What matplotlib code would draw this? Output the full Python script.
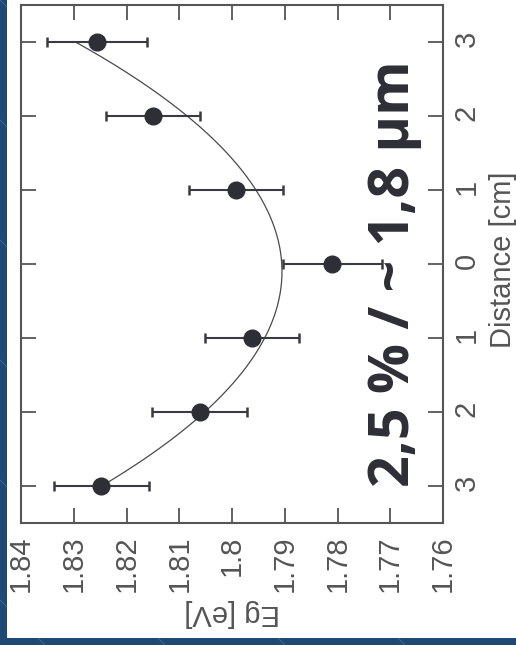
#!/usr/bin/env python3

from __future__ import annotations

import matplotlib

matplotlib.use("Agg")
import matplotlib.pyplot as plt
import numpy as np
from matplotlib.lines import Line2D
from matplotlib.patches import Rectangle

# the chart is shown turned a quarter turn: Eg runs left-right, distance up-down
DISTANCE = [3, 2, 1, 0, -1, -2, -3]
EG = [1.8256, 1.8150, 1.7992, 1.7810, 1.7962, 1.8061, 1.8248]
EG_ERR = [0.0094, 0.0089, 0.0089, 0.0094, 0.0089, 0.0090, 0.0090]

EG_TICKS = [1.84, 1.83, 1.82, 1.81, 1.80, 1.79, 1.78, 1.77, 1.76]
EG_TICK_LABELS = ["1.84", "1.83", "1.82", "1.81", "1.8", "1.79", "1.78", "1.77", "1.76"]
DIST_TICKS = [3, 2, 1, 0, -1, -2, -3]
DIST_TICK_LABELS = ["3", "2", "1", "0", "1", "2", "3"]

ANNOTATION = "2,5 % / ~ 1,8 µm"

W, H = 516, 645
GREY = "#555555"
DARK = "#2e2e36"


def plot(out_path: str) -> None:
    plt.rcParams["font.family"] = ["Liberation Sans", "DejaVu Sans"]

    fig = plt.figure(figsize=(W / 100, H / 100), dpi=100)
    fig.patch.set_facecolor("#1d4974")

    # faint diagonal streaks in the blue frame, then the white sheet on top
    for k in range(-480, 760, 120):
        fig.add_artist(
            Line2D([0, 1], [1 - k / H, 1 - (k + W) / H], transform=fig.transFigure,
                   color="#3b6994", lw=0.7, zorder=-3)
        )
    fig.add_artist(
        Rectangle((7 / W, 7 / H), 1, 1, transform=fig.transFigure,
                  facecolor="white", edgecolor="none", zorder=-2)
    )

    ax = fig.add_axes([21 / W, 1 - 523 / H, 422 / W, 518 / H])
    ax.set_facecolor("white")

    coef = np.polyfit(DISTANCE, EG, 2)
    d = np.linspace(min(DISTANCE), max(DISTANCE), 300)
    ax.plot(np.polyval(coef, d), d, color="#4a4a4a", lw=0.9, zorder=2)

    ax.errorbar(EG, DISTANCE, xerr=EG_ERR, fmt="o", ms=12, color=DARK,
                ecolor="#3a3a40", elinewidth=1.5, capsize=3.6, capthick=1.8, zorder=3)

    ax.set_xlim(1.84, 1.76)
    ax.set_ylim(-3.5, 3.5)

    ax.set_xticks(EG_TICKS, EG_TICK_LABELS, rotation=90)
    ax.set_yticks(DIST_TICKS, DIST_TICK_LABELS, rotation=90)
    ax.tick_params(direction="in", length=10.5, width=1.3, color=GREY, labelcolor=GREY,
                   labelsize=21, top=True, right=True, left=True, bottom=True,
                   labelleft=False, labelright=True)
    ax.tick_params(axis="x", pad=9)
    ax.tick_params(axis="y", pad=7)
    for s in ax.spines.values():
        s.set_color(GREY)
        s.set_linewidth(1.5)

    ax.set_xlabel("Eg [eV]", rotation=180, fontsize=21, color=GREY, va="center")
    ax.xaxis.set_label_coords(0.5, (523 - 613) / 518)
    ax.yaxis.set_label_position("right")
    ax.set_ylabel("Distance [cm]", rotation=90, fontsize=21, color=GREY, va="center")
    ax.yaxis.set_label_coords((503 - 21) / 422, (523 - 260) / 518)

    ax.text(0.885, 0.4807, ANNOTATION, transform=ax.transAxes, rotation=90,
            ha="center", va="center", fontsize=40, fontweight="bold",
            family=["Open Sans", "DejaVu Sans"], color=DARK, zorder=4)

    fig.savefig(out_path, dpi=100, facecolor=fig.get_facecolor())
    plt.close(fig)


def main() -> None:
    plot("out.png")


if __name__ == "__main__":
    main()
